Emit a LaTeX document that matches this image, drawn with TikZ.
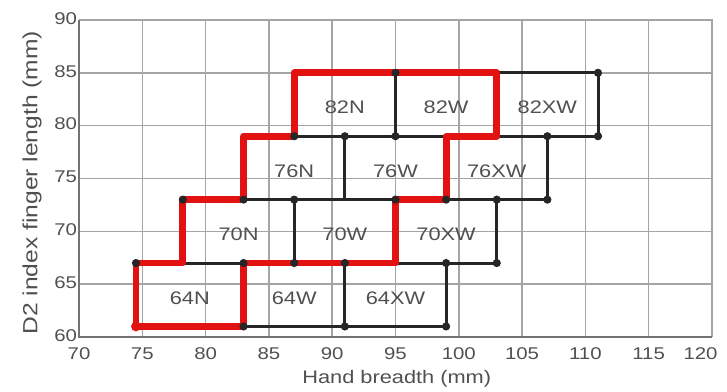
\documentclass[tikz,border=0pt]{standalone}
\usepackage{fontspec}
\setmainfont{Liberation Sans}[FakeStretch=1.2]
\usetikzlibrary{calc}
\definecolor{inkgray}{RGB}{80,80,80}
\definecolor{gridgray}{RGB}{165,165,165}
\definecolor{axisgray}{RGB}{115,115,115}
\definecolor{fitred}{RGB}{226,18,18}
\tikzset{
    gridline/.style={line width=1.3pt,color=gridgray},
    axisline/.style={line width=1.6pt,color=axisgray},
    boxline/.style={line width=2.6pt,color=black!85},
    fitline/.style={line width=5.8pt,color=fitred,line join=round,line cap=round},
    sizelabel/.style={text=inkgray,font=\fontsize{15.5}{18}\selectfont},
    ticklabel/.style={text=inkgray,font=\fontsize{14.5}{17}\selectfont,inner sep=1pt},
}
\newcommand\SizeRow[7]{%
    \foreach \c/\x in {a/#4,b/#5,c/#6,d/#7} {
        \coordinate (R#1\c-lo) at (\x,#2);
        \coordinate (R#1\c-hi) at (\x,#3);
    }
    \draw[boxline] (R#1a-lo) rectangle (R#1d-hi);
    \draw[boxline] (R#1b-lo) -- (R#1b-hi) (R#1c-lo) -- (R#1c-hi);
    \node[sizelabel] (L#1N) at ($(R#1a-lo)!0.5!(R#1b-hi)+(0,-0.3)$) {#1N};
    \node[sizelabel] (L#1W) at ($(R#1b-lo)!0.5!(R#1c-hi)+(0,-0.3)$) {#1W};
    \node[sizelabel] (L#1XW) at ($(R#1c-lo)!0.5!(R#1d-hi)+(0,-0.3)$) {#1XW};
}

\begin{document}
\begin{tikzpicture}[x=0.3798cm,y=0.3171cm]
    \useasboundingbox (63.76,54.89) rectangle (121.19,91.89);
    % grid and axes
    \foreach \x in {75,80,...,115} \draw[gridline] (\x,60) -- (\x,90);
    \foreach \y in {65,70,...,85} \draw[gridline] (70,\y) -- (120,\y);
    \draw[gridline] (70,90) -- (120,90) -- (120,60);
    \draw[axisline] (70,90) -- (70,60) -- (120,60);
    \foreach \x in {70,75,...,115}
        \node[ticklabel] (X\x) at (\x,58.45) {\x};
    \node[ticklabel] (X120) at (119.1,58.45) {120};
    \foreach \y in {60,65,...,90}
        \node[ticklabel,anchor=east] (Y\y) at (69.95,\y+0.15) {\y};
    \node[ticklabel,font=\fontsize{15.5}{18}\selectfont] (XTitle) at (95.1,56.05) {Hand breadth (mm)};
    \node[ticklabel,font=\fontsize{17.5}{20}\selectfont,rotate=90] (YTitle) at (66.3,74.6) {D2 index finger length (mm)};
    % glove sizes
    \SizeRow{64}{61}{67}{74.5}{83}{91}{99}
    \SizeRow{70}{67}{73}{78.2}{87}{95}{103}
    \SizeRow{76}{73}{79}{83}{91}{99}{107}
    \SizeRow{82}{79}{85}{87}{95}{103}{111}
    \draw[fitline] (R64a-lo) -- (R64b-lo) -- (R64b-hi) -- (R70c-lo) -- (R70c-hi)
        -- (R76c-lo) -- (R76c-hi) -- (R82c-lo) -- (R82c-hi) -- (R82a-hi) -- (R82a-lo)
        -- (R76a-hi) -- (R76a-lo) -- (R70a-hi) -- (R70a-lo) -- (R64a-hi) -- cycle;
    \fill[fitred] (R64a-lo) circle[radius=4.2pt];
    \foreach \p in {R64a-hi,R64b-lo,R64b-hi,R64c-lo,R64c-hi,R64d-lo,R64d-hi,
                    R70a-hi,R70b-lo,R70b-hi,R70c-hi,R70d-lo,R70d-hi,
                    R76a-lo,R76b-hi,R76c-lo,R76d-lo,R76d-hi,
                    R82a-lo,R82b-lo,R82b-hi,R82d-lo,R82d-hi}
        \fill[black!85] (\p) circle[radius=3.5pt];
\end{tikzpicture}
\end{document}
